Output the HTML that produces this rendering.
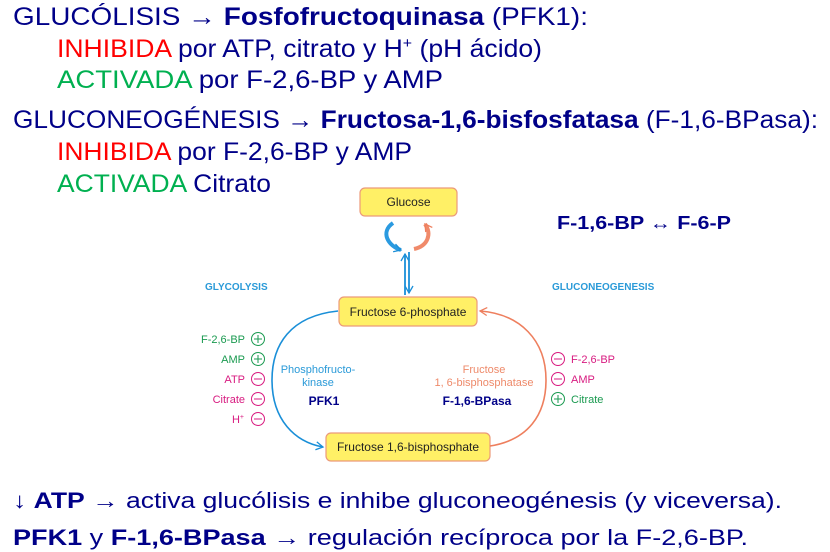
<!DOCTYPE html>
<html><head><meta charset="utf-8"><style>
html,body{margin:0;padding:0;background:#fff;}
svg{display:block;font-family:"Liberation Sans",Arial,sans-serif;}
</style></head><body>
<svg width="830" height="552" viewBox="0 0 830 552" xmlns="http://www.w3.org/2000/svg">
<defs>
<marker id="ab" markerWidth="10" markerHeight="10" refX="8" refY="5" orient="auto" markerUnits="userSpaceOnUse"><path d="M1,1 L8,5 L1,9" fill="none" stroke="#1a8fd8" stroke-width="1.3"/></marker>
<marker id="ao" markerWidth="10" markerHeight="10" refX="8" refY="5" orient="auto" markerUnits="userSpaceOnUse"><path d="M1,1 L8,5 L1,9" fill="none" stroke="#ee7f5e" stroke-width="1.3"/></marker>
</defs>
<g font-size="25" fill="#000088">
<text x="13" y="25" textLength="575" lengthAdjust="spacingAndGlyphs">GLUCÓLISIS <tspan font-weight="bold">→</tspan> <tspan font-weight="bold">Fosfofructoquinasa</tspan> (PFK1):</text>
<text x="57" y="57" textLength="485" lengthAdjust="spacingAndGlyphs"><tspan fill="#ff0000">INHIBIDA</tspan> por ATP, citrato y H<tspan font-size="15" dy="-9">+</tspan><tspan dy="9"> (pH ácido)</tspan></text>
<text x="57" y="88" textLength="386" lengthAdjust="spacingAndGlyphs"><tspan fill="#00b050">ACTIVADA</tspan> por F-2,6-BP y AMP</text>
<text x="13" y="128" textLength="805" lengthAdjust="spacingAndGlyphs">GLUCONEOGÉNESIS <tspan font-weight="bold">→</tspan> <tspan font-weight="bold">Fructosa-1,6-bisfosfatasa</tspan> (F-1,6-BPasa):</text>
<text x="57" y="160" textLength="355" lengthAdjust="spacingAndGlyphs"><tspan fill="#ff0000">INHIBIDA</tspan> por F-2,6-BP y AMP</text>
<text x="57" y="192" textLength="214" lengthAdjust="spacingAndGlyphs"><tspan fill="#00b050">ACTIVADA</tspan> Citrato</text>
</g>
<g font-size="22" fill="#000088">
<text x="13" y="508" textLength="769" lengthAdjust="spacingAndGlyphs">↓ <tspan font-weight="bold">ATP</tspan> <tspan font-weight="bold">→</tspan> activa glucólisis e inhibe gluconeogénesis (y viceversa).</text>
<text x="13" y="545" textLength="735" lengthAdjust="spacingAndGlyphs"><tspan font-weight="bold">PFK1</tspan> y  <tspan font-weight="bold">F-1,6-BPasa</tspan> <tspan font-weight="bold">→</tspan> regulación recíproca por la F-2,6-BP.</text>
</g>
<text x="557" y="229" font-size="18" font-weight="bold" fill="#000088" textLength="174" lengthAdjust="spacingAndGlyphs">F-1,6-BP ↔ F-6-P</text>

<rect x="360" y="188" width="97" height="28" rx="5" fill="#fff066" stroke="#ec9a7a" stroke-width="1.2"/>
<text x="408.5" y="206" font-size="12" text-anchor="middle" fill="#222">Glucose</text>
<rect x="339" y="297" width="138" height="29" rx="5" fill="#fff066" stroke="#ec9a7a" stroke-width="1.2"/>
<text x="408" y="316" font-size="12" text-anchor="middle" fill="#222">Fructose 6-phosphate</text>
<rect x="326" y="433" width="164" height="28" rx="5" fill="#fff066" stroke="#ec9a7a" stroke-width="1.2"/>
<text x="408" y="451" font-size="12" text-anchor="middle" fill="#222">Fructose 1,6-bisphosphate</text>

<path d="M393,223 C380,232 388,246 401,250" fill="none" stroke="#2a9ae0" stroke-width="4" marker-end="url(#ab)"/>
<path d="M414,249 C428,246 432,234 425,224" fill="none" stroke="#f08a6a" stroke-width="4" marker-end="url(#ao)"/>
<line x1="405" y1="295" x2="405" y2="254" stroke="#1a8fd8" stroke-width="1.8" marker-end="url(#ab)"/>
<line x1="409" y1="252" x2="409" y2="293" stroke="#1a8fd8" stroke-width="1.8" marker-end="url(#ab)"/>

<path d="M338,311 C290,316 272,345 272,380 C272,420 295,442 323,447" fill="none" stroke="#1a8fd8" stroke-width="1.6" marker-end="url(#ab)"/>
<path d="M490,446 C528,440 546,415 546,380 C546,340 520,314 480,311" fill="none" stroke="#ee7f5e" stroke-width="1.6" marker-end="url(#ao)"/>

<g font-size="10" font-weight="bold" fill="#2a9ad8">
<text x="205" y="290">GLYCOLYSIS</text>
<text x="552" y="290">GLUCONEOGENESIS</text>
</g>
<g font-size="11">
<text x="318" y="373" text-anchor="middle" fill="#2a9ad8">Phosphofructo-</text>
<text x="318" y="386" text-anchor="middle" fill="#2a9ad8">kinase</text>
<text x="324" y="405" text-anchor="middle" fill="#000088" font-weight="bold" font-size="12">PFK1</text>
<text x="484" y="373" text-anchor="middle" fill="#ee8a6a">Fructose</text>
<text x="484" y="386" text-anchor="middle" fill="#ee8a6a">1, 6-bisphosphatase</text>
<text x="477" y="405" text-anchor="middle" fill="#000088" font-weight="bold" font-size="12">F-1,6-BPasa</text>
</g>

<g font-size="11" text-anchor="end">
<text x="245" y="343" fill="#1a9a50">F-2,6-BP</text>
<text x="245" y="363" fill="#1a9a50">AMP</text>
<text x="245" y="383" fill="#d81b80">ATP</text>
<text x="245" y="403" fill="#d81b80">Citrate</text>
<text x="244" y="423" fill="#d81b80">H<tspan font-size="7" dy="-4">+</tspan></text>
</g>
<g fill="none" stroke-width="1">
<circle cx="258" cy="339" r="6.5" stroke="#1a9a50"/><path d="M254,339h8M258,335v8" stroke="#1a9a50"/>
<circle cx="258" cy="359" r="6.5" stroke="#1a9a50"/><path d="M254,359h8M258,355v8" stroke="#1a9a50"/>
<circle cx="258" cy="379" r="6.5" stroke="#d81b80"/><path d="M254,379h8" stroke="#d81b80"/>
<circle cx="258" cy="399" r="6.5" stroke="#d81b80"/><path d="M254,399h8" stroke="#d81b80"/>
<circle cx="258" cy="419" r="6.5" stroke="#d81b80"/><path d="M254,419h8" stroke="#d81b80"/>
<circle cx="558" cy="359" r="6.5" stroke="#d81b80"/><path d="M554,359h8" stroke="#d81b80"/>
<circle cx="558" cy="379" r="6.5" stroke="#d81b80"/><path d="M554,379h8" stroke="#d81b80"/>
<circle cx="558" cy="399" r="6.5" stroke="#1a9a50"/><path d="M554,399h8M558,395v8" stroke="#1a9a50"/>
</g>
<g font-size="11">
<text x="571" y="363" fill="#d81b80">F-2,6-BP</text>
<text x="571" y="383" fill="#d81b80">AMP</text>
<text x="571" y="403" fill="#1a9a50">Citrate</text>
</g>
</svg>
</body></html>
